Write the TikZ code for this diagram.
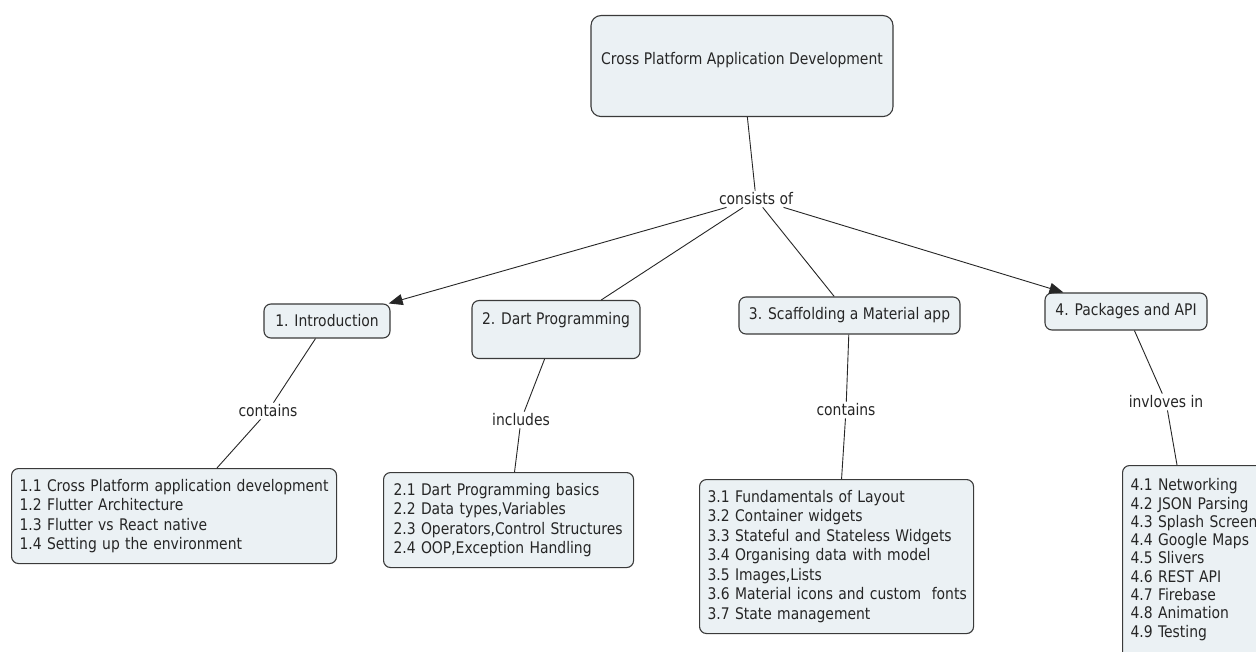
\documentclass[tikz,border=0pt]{standalone}
\usepackage{fontspec}
\setmainfont[FakeStretch=0.87]{DejaVu Sans}
\usetikzlibrary{arrows.meta}
\definecolor{boxfill}{HTML}{EBF1F4}
\definecolor{boxline}{HTML}{3A3A3A}
\begin{document}
\begin{tikzpicture}[x=1pt,y=-1pt,
  box/.style={draw=boxline,fill=boxfill,line width=1.1pt,rounded corners=7pt,
    font=\fontsize{16}{19.5}\selectfont,text=black!85},
  listbox/.style={box,align=left,anchor=north west},
  lab/.style={fill=white,inner sep=2pt,font=\fontsize{16}{19.5}\selectfont,text=black!85},
  conn/.style={draw=black!85,line width=0.9pt},
  arr/.style={conn,-{Triangle[length=14pt,width=11pt]}}]
\useasboundingbox (0,0) rectangle (1256,652);
\clip (0,0) rectangle (1256,652);
\fill[white] (0,0) rectangle (1256,652);

\node[box,rounded corners=10pt,anchor=north,minimum width=302,inner ysep=0pt,
  text height=48.5,text depth=52.5] (root) at (742,15) {Cross Platform Application Development};

\node[lab] (cons) at (756,199) {consists of};

\node[box,minimum width=126,minimum height=34] (intro) at (327,321) {1. Introduction};
\node[box,anchor=north,minimum width=168,inner ysep=0pt,text height=24,text depth=34] (dart) at (556,300) {2. Dart Programming};
\node[box,minimum width=221,minimum height=37] (scaf) at (849.5,315.5) {3. Scaffolding a Material app};
\node[box,minimum width=162,minimum height=37] (pack) at (1126,311.5) {4. Packages and API};

\node[lab] (l1) at (268,411) {contains};
\node[lab] (l2) at (521,420) {includes};
\node[lab] (l3) at (846,410) {contains};
\node[lab] (l4) at (1166,402) {invloves in};

\node[listbox,inner xsep=8pt,text width=309,minimum height=95] (b1) at (11,468)
 {1.1 Cross Platform application development\\1.2 Flutter Architecture\\1.3 Flutter vs React native\\1.4 Setting up the environment};
\node[listbox,inner xsep=10pt,text width=230,minimum height=95] (b2) at (383,472)
 {2.1 Dart Programming basics\\2.2 Data types,Variables\\2.3 Operators,Control Structures\\2.4 OOP,Exception Handling};
\node[listbox,inner xsep=8pt,text width=258,minimum height=154] (b3) at (699,479)
 {3.1 Fundamentals of Layout\\3.2 Container widgets\\3.3 Stateful and Stateless Widgets\\3.4 Organising data with model\\3.5 Images,Lists\\\mbox{3.6 Material icons and custom\ \ fonts}\\3.7 State management};
\node[listbox,inner xsep=8pt,inner ysep=13pt,text width=170,text depth=200,
  font=\fontsize{16}{18.3}\selectfont] (b4) at (1122,465)
 {4.1 Networking\\4.2 JSON Parsing\\4.3 Splash Screen\\4.4 Google Maps\\4.5 Slivers\\4.6 REST API\\4.7 Firebase\\4.8 Animation\\4.9 Testing};

\draw[conn] (root) -- (cons);
\draw[arr] (cons) -- (intro);
\draw[conn] (cons) -- (dart);
\draw[conn] (cons) -- (scaf);
\draw[arr] (cons) -- (pack);
\draw[conn] (intro) -- (l1);
\draw[conn] (l1) -- (b1);
\draw[conn] (dart) -- (l2);
\draw[conn] (l2) -- (b2);
\draw[conn] (scaf) -- (l3);
\draw[conn] (l3) -- (b3);
\draw[conn] (pack) -- (l4);
\draw[conn] (l4) -- (b4.north -| 1177,0);
\end{tikzpicture}
\end{document}
